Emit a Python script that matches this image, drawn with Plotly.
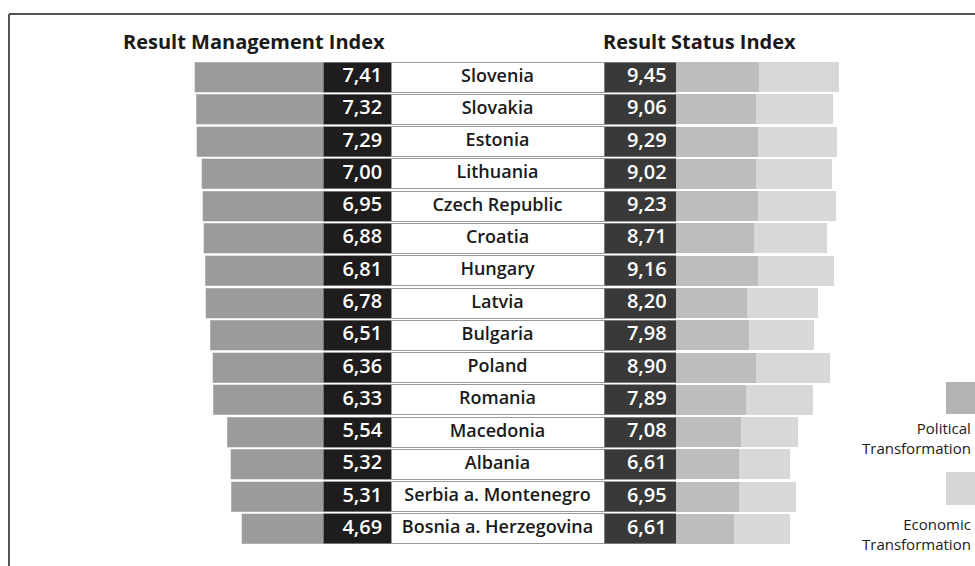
import plotly.graph_objects as go

countries = ["Slovenia", "Slovakia", "Estonia", "Lithuania", "Czech Republic", "Croatia",
             "Hungary", "Latvia", "Bulgaria", "Poland", "Romania", "Macedonia", "Albania",
             "Serbia a. Montenegro", "Bosnia a. Herzegovina"]
management = [7.41, 7.32, 7.29, 7.00, 6.95, 6.88, 6.81, 6.78, 6.51, 6.36, 6.33, 5.54, 5.32, 5.31, 4.69]
status = [9.45, 9.06, 9.29, 9.02, 9.23, 8.71, 9.16, 8.20, 7.98, 8.90, 7.89, 7.08, 6.61, 6.95, 6.61]
# stacked segments of the status bar (political / economic share)
political = [4.82, 4.61, 4.72, 4.61, 4.72, 4.53, 4.76, 4.12, 4.24, 4.61, 4.05, 3.74, 3.66, 3.66, 3.35]
economic = [4.63, 4.45, 4.57, 4.41, 4.51, 4.18, 4.40, 4.08, 3.74, 4.29, 3.84, 3.34, 2.95, 3.29, 3.26]

W, H = 975, 566
PX_PER_UNIT = 17.3

def fmt(v):
    return f"{v:.2f}".replace(".", ",")

FONT = "Open Sans"
C_LEFT = "#9b9b9b"
C_POL = "#bdbdbd"
C_ECO = "#d8d8d8"
C_BLK_L = "#1e1c1c"
C_BLK_R = "#393939"

fig = go.Figure()

# left bars (Result Management Index)
fig.add_trace(go.Bar(y=countries, x=management, orientation="h", xaxis="x", yaxis="y",
                     marker=dict(color=C_LEFT, line=dict(color="#c8c8c8", width=0.5)),
                     hoverinfo="skip", showlegend=False))
# left black value cells
ones = [1] * len(countries)
fig.add_trace(go.Bar(y=countries, x=ones, orientation="h", xaxis="x2", yaxis="y",
                     marker=dict(color=C_BLK_L, line=dict(color="#8a8a8a", width=0.8)),
                     hoverinfo="skip", showlegend=False))
fig.add_trace(go.Scatter(y=countries, x=[0.87] * len(countries), xaxis="x2", yaxis="y",
                         mode="text", text=[fmt(v) for v in management],
                         textposition="middle left",
                         textfont=dict(family=FONT, size=20, color="white", weight=600),
                         hoverinfo="skip", showlegend=False))
# country name cells
fig.add_trace(go.Bar(y=countries, x=ones, orientation="h", xaxis="x3", yaxis="y",
                     marker=dict(color="white", line=dict(color="#9a9a9a", width=1)),
                     hoverinfo="skip", showlegend=False))
fig.add_trace(go.Scatter(y=countries, x=[0.5] * len(countries), xaxis="x3", yaxis="y",
                         mode="text", text=countries, textposition="middle center",
                         textfont=dict(family=FONT, size=18, color="#1a1a1a", weight=600),
                         hoverinfo="skip", showlegend=False))
# right black value cells
fig.add_trace(go.Bar(y=countries, x=ones, orientation="h", xaxis="x4", yaxis="y",
                     marker=dict(color=C_BLK_R, line=dict(color="#8a8a8a", width=0.8)),
                     hoverinfo="skip", showlegend=False))
fig.add_trace(go.Scatter(y=countries, x=[0.87] * len(countries), xaxis="x4", yaxis="y",
                         mode="text", text=[fmt(v) for v in status],
                         textposition="middle left",
                         textfont=dict(family=FONT, size=20, color="white", weight=600),
                         hoverinfo="skip", showlegend=False))
# right stacked bars (Result Status Index)
fig.add_trace(go.Bar(y=countries, x=political, orientation="h", xaxis="x5", yaxis="y",
                     marker=dict(color=C_POL, line=dict(width=0)),
                     hoverinfo="skip", showlegend=False))
fig.add_trace(go.Bar(y=countries, x=economic, orientation="h", xaxis="x5", yaxis="y",
                     marker=dict(color=C_ECO, line=dict(width=0)),
                     hoverinfo="skip", showlegend=False))

def px_x(p):
    return p / W

def px_y(p):
    return 1 - p / H

hidden = dict(visible=False, showgrid=False, zeroline=False, fixedrange=True)
fig.update_layout(
    width=W, height=H,
    margin=dict(l=0, r=0, t=0, b=0),
    paper_bgcolor="white", plot_bgcolor="white",
    barmode="stack", bargap=0.07,
    xaxis=dict(domain=[0, px_x(323)], range=[323 / PX_PER_UNIT, 0], anchor="y", **hidden),
    xaxis2=dict(domain=[px_x(323), px_x(391)], range=[0, 1], anchor="y", **hidden),
    xaxis3=dict(domain=[px_x(391), px_x(604)], range=[0, 1], anchor="y", **hidden),
    xaxis4=dict(domain=[px_x(604), px_x(676)], range=[0, 1], anchor="y", **hidden),
    xaxis5=dict(domain=[px_x(676), 1], range=[0, (W - 676) / PX_PER_UNIT], anchor="y", **hidden),
    yaxis=dict(domain=[px_y(545), px_y(61)], range=[len(countries) - 0.5, -0.5],
               type="category", categoryorder="array", categoryarray=countries, **hidden),
    font=dict(family=FONT),
)

# frame lines
fig.add_shape(type="line", xref="paper", yref="paper", x0=px_x(9), x1=1.01,
              y0=px_y(14), y1=px_y(14), line=dict(color="#555555", width=2))
fig.add_shape(type="line", xref="paper", yref="paper", x0=px_x(9), x1=px_x(9),
              y0=px_y(14), y1=-0.01, line=dict(color="#555555", width=2))

# headers
fig.add_annotation(text="<b>Result Management Index</b>", xref="paper", yref="paper",
                   x=px_x(121), y=px_y(42), xanchor="left", yanchor="middle", showarrow=False,
                   font=dict(family=FONT, size=20, color="#1a1a1a"))
fig.add_annotation(text="<b>Result Status Index</b>", xref="paper", yref="paper",
                   x=px_x(601), y=px_y(42), xanchor="left", yanchor="middle", showarrow=False,
                   font=dict(family=FONT, size=20, color="#1a1a1a"))

# legend
fig.add_shape(type="rect", xref="paper", yref="paper", x0=px_x(946), x1=px_x(990),
              y0=px_y(414), y1=px_y(382), fillcolor="#b3b3b3", line=dict(width=0))
fig.add_shape(type="rect", xref="paper", yref="paper", x0=px_x(946), x1=px_x(990),
              y0=px_y(505), y1=px_y(472), fillcolor="#d5d5d5", line=dict(width=0))
fig.add_annotation(text="Political<br>Transformation", xref="paper", yref="paper",
                   x=px_x(973), y=px_y(438), xanchor="right", yanchor="middle", align="right",
                   showarrow=False, font=dict(family=FONT, size=15, color="#1a1a1a"))
fig.add_annotation(text="Economic<br>Transformation", xref="paper", yref="paper",
                   x=px_x(973), y=px_y(534), xanchor="right", yanchor="middle", align="right",
                   showarrow=False, font=dict(family=FONT, size=15, color="#1a1a1a"))

fig.write_html("out.html", config={"displayModeBar": False},
               post_script="document.body.style.margin='0';document.body.style.overflow='hidden';")
